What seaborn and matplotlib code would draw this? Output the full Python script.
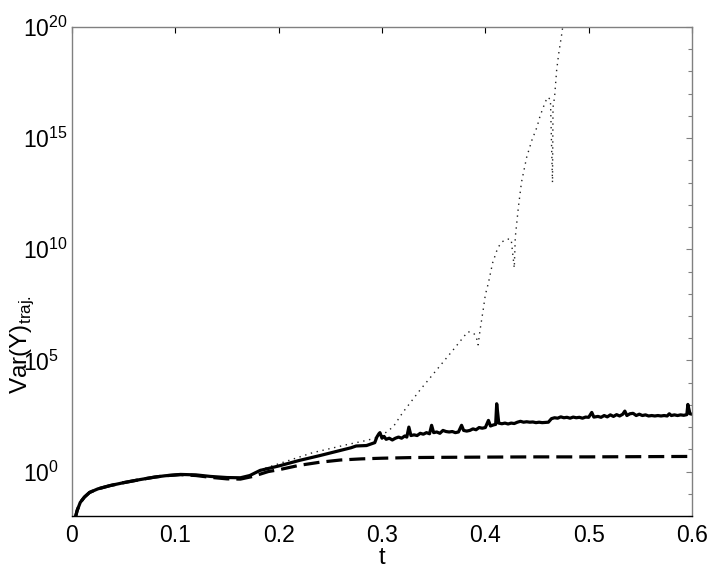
import matplotlib
matplotlib.use("Agg")
import matplotlib.pyplot as plt
import matplotlib.ticker as mticker
import numpy as np
import pandas as pd
import seaborn as sns

sns.set_style("white")
plt.rcParams["font.family"] = ["Liberation Sans", "DejaVu Sans"]
plt.rcParams["mathtext.fontset"] = "custom"
plt.rcParams["mathtext.rm"] = "Liberation Sans"
plt.rcParams["text.color"] = "black"
plt.rcParams["axes.labelcolor"] = "black"
plt.rcParams["xtick.labelcolor"] = "black"
plt.rcParams["ytick.labelcolor"] = "black"

# ---- data (stored as log10 of Var(Y)) ----
t_solid = [0.002, 0.005, 0.008, 0.012, 0.017, 0.025, 0.037, 0.05, 0.066, 0.08,
           0.09, 0.105, 0.12, 0.134, 0.15, 0.163, 0.172, 0.182, 0.20, 0.22,
           0.24, 0.26, 0.27, 0.275, 0.285, 0.290, 0.293, 0.295, 0.297, 0.298,
           0.300, 0.302, 0.304, 0.307, 0.310, 0.313, 0.316, 0.319, 0.322, 0.324,
           0.326, 0.328, 0.331, 0.334, 0.337, 0.340, 0.343, 0.346, 0.348, 0.350,
           0.353, 0.356, 0.359, 0.362, 0.365, 0.368, 0.371, 0.374, 0.377, 0.379,
           0.382, 0.385, 0.388, 0.391, 0.394, 0.397, 0.400, 0.403, 0.405, 0.408,
           0.410, 0.411, 0.413, 0.416, 0.419, 0.422, 0.425, 0.428, 0.431, 0.434,
           0.437, 0.440, 0.443, 0.446, 0.449, 0.452, 0.455, 0.458, 0.461, 0.464,
           0.467, 0.470, 0.473, 0.476, 0.479, 0.482, 0.485, 0.488, 0.491, 0.494,
           0.497, 0.500, 0.503, 0.505, 0.509, 0.512, 0.515, 0.518, 0.521, 0.524,
           0.527, 0.530, 0.533, 0.535, 0.537, 0.540, 0.543, 0.546, 0.549, 0.552,
           0.555, 0.558, 0.561, 0.564, 0.567, 0.570, 0.573, 0.576, 0.578, 0.580,
           0.583, 0.586, 0.589, 0.592, 0.595, 0.596, 0.598, 0.600]
lv_solid = [-2.3, -1.75, -1.39, -1.15, -0.94, -0.78, -0.63, -0.50, -0.36, -0.25,
            -0.19, -0.13, -0.15, -0.22, -0.27, -0.28, -0.18, 0.05, 0.25, 0.50,
            0.72, 0.95, 1.07, 1.15, 1.17, 1.25, 1.30, 1.55, 1.70, 1.75,
            1.50, 1.58, 1.45, 1.50, 1.42, 1.50, 1.55, 1.50, 1.60, 1.55,
            2.00, 1.62, 1.65, 1.62, 1.72, 1.68, 1.75, 1.70, 2.08, 1.75,
            1.78, 1.72, 1.85, 1.80, 1.78, 1.80, 1.75, 1.78, 2.08, 1.85,
            1.82, 1.85, 1.92, 1.88, 1.98, 1.95, 1.98, 2.30, 2.05, 2.10,
            2.12, 3.05, 2.18, 2.15, 2.18, 2.14, 2.18, 2.16, 2.22, 2.26,
            2.22, 2.24, 2.22, 2.23, 2.20, 2.22, 2.20, 2.21, 2.22, 2.38,
            2.42, 2.40, 2.46, 2.42, 2.44, 2.40, 2.45, 2.42, 2.44, 2.40,
            2.45, 2.44, 2.66, 2.45, 2.48, 2.44, 2.52, 2.46, 2.55, 2.48,
            2.56, 2.50, 2.58, 2.72, 2.52, 2.60, 2.62, 2.52, 2.58, 2.52,
            2.55, 2.50, 2.52, 2.50, 2.52, 2.50, 2.52, 2.50, 2.60, 2.52,
            2.55, 2.52, 2.55, 2.53, 2.56, 3.02, 2.60, 2.58]

t_dashed = [0.002, 0.005, 0.008, 0.012, 0.017, 0.025, 0.037, 0.05, 0.066, 0.08,
            0.09, 0.105, 0.12, 0.134, 0.15, 0.163, 0.175, 0.19, 0.20, 0.22,
            0.24, 0.26, 0.28, 0.30, 0.33, 0.36, 0.40, 0.45, 0.50, 0.55, 0.60]
lv_dashed = [-2.3, -1.75, -1.39, -1.15, -0.94, -0.78, -0.63, -0.50, -0.36, -0.25,
             -0.19, -0.14, -0.18, -0.26, -0.33, -0.34, -0.22, 0.0, 0.08, 0.28,
             0.42, 0.52, 0.57, 0.60, 0.63, 0.64, 0.65, 0.66, 0.66, 0.67, 0.68]

t_dotted = [0.002, 0.005, 0.008, 0.012, 0.017, 0.025, 0.037, 0.05, 0.066, 0.08,
            0.09, 0.105, 0.12, 0.134, 0.15, 0.163, 0.172, 0.182, 0.20, 0.233,
            0.266, 0.285, 0.298, 0.305, 0.311, 0.32, 0.337, 0.353, 0.369, 0.383,
            0.388, 0.391, 0.393, 0.395, 0.398, 0.400, 0.403, 0.407, 0.412, 0.416,
            0.421, 0.425, 0.428, 0.429, 0.432, 0.435, 0.440, 0.445, 0.450, 0.453,
            0.457, 0.460, 0.463, 0.465, 0.4655, 0.467, 0.469, 0.471, 0.474, 0.476]
lv_dotted = [-2.3, -1.75, -1.39, -1.15, -0.94, -0.78, -0.63, -0.50, -0.36, -0.25,
             -0.19, -0.13, -0.15, -0.22, -0.27, -0.28, -0.18, 0.08, 0.35, 0.85,
             1.21, 1.40, 1.57, 1.80, 2.02, 2.65, 3.68, 4.58, 5.48, 6.29,
             6.25, 6.10, 5.70, 6.40, 7.30, 7.95, 8.49, 9.38, 10.06, 10.33,
             10.46, 10.45, 9.16, 10.55, 11.9, 13.02, 14.14, 14.9, 15.5, 16.0,
             16.5, 16.84, 16.75, 13.0, 16.39, 16.84, 18.05, 18.8, 19.7, 20.4]

y_major_exp = [0, 5, 10, 15, 20]
x_ticks = [0, 0.1, 0.2, 0.3, 0.4, 0.5, 0.6]

# ---- figure ----
fig = plt.figure(figsize=(7.14, 5.75), dpi=100)
ax = fig.add_axes([72 / 714, 1 - 516 / 575, 620 / 714, 489 / 575])

def frame(t, lv):
    return pd.DataFrame({"t": t, "var": np.power(10.0, lv)})

sns.lineplot(data=frame(t_dotted, lv_dotted), x="t", y="var", ax=ax, sort=False,
             estimator=None, color="#222222", lw=1.0)
ax.lines[-1].set_dashes((1.0, 3.3))
sns.lineplot(data=frame(t_dashed, lv_dashed), x="t", y="var", ax=ax, sort=False,
             estimator=None, color="black", lw=2.3)
ax.lines[-1].set_dashes((5, 2.2))
sns.lineplot(data=frame(t_solid, lv_solid), x="t", y="var", ax=ax, sort=False,
             estimator=None, color="black", lw=2.3)

ax.set_yscale("log")
ax.set_xlim(0, 0.6)
ax.set_ylim(1e-2, 1e20)

ax.xaxis.set_major_locator(mticker.FixedLocator(x_ticks))
ax.xaxis.set_major_formatter(mticker.FixedFormatter([f"{v:g}" for v in x_ticks]))
ax.yaxis.set_major_locator(mticker.FixedLocator([10.0 ** e for e in y_major_exp]))
ax.yaxis.set_major_formatter(mticker.FixedFormatter(
    [r"$\mathregular{10^{%d}}$" % e for e in y_major_exp]))
ax.yaxis.set_minor_locator(mticker.FixedLocator([10.0 ** e for e in range(-2, 21)]))
ax.yaxis.set_minor_formatter(mticker.NullFormatter())

ax.tick_params(axis="both", which="both", direction="in", top=True, right=True,
               labelsize=16.5, labelcolor="black")
ax.tick_params(axis="x", which="major", length=4.5, width=0.8, color="black", pad=6)
ax.tick_params(axis="y", which="major", length=4.5, width=0.8, color="#808080", pad=35)
ax.tick_params(axis="y", which="minor", length=3, width=0.8, color="#808080")
# the "10" of every y label starts at the same x, as in the reference
for lbl in ax.yaxis.get_majorticklabels():
    lbl.set_horizontalalignment("left")

for side in ["left", "top", "right"]:
    ax.spines[side].set_color("#808080")
    ax.spines[side].set_linewidth(1.0)
ax.spines["bottom"].set_color("black")
ax.spines["bottom"].set_linewidth(1.0)

ax.set_xlabel("t", fontsize=17, labelpad=0)
ax.set_ylabel(r"Var(Y)$_{\mathregular{traj.}}$", fontsize=17.5, va="center")
ax.yaxis.set_label_coords((22 - 72) / 620, (516 - 345) / 489)

fig.savefig("out.png", dpi=100)
